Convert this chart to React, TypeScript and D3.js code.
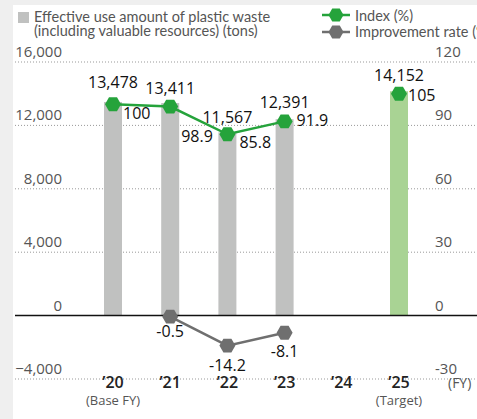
import React from 'react';
import * as d3 from 'd3';

const categories = ['’20', '’21', '’22', '’23', '’24', '’25'];
const subLabels = ['(Base FY)', '', '', '', '', '(Target)'];
const amounts: (number | null)[] = [13478, 13411, 11567, 12391, null, 14152];
const indexCats = ['’20', '’21', '’22', '’23'];
const indexValues = [100, 98.9, 85.8, 91.9];
const indexTargetCat = '’25';
const indexTarget = 105;
const improveCats = ['’21', '’22', '’23'];
const improveValues = [-0.5, -14.2, -8.1];
const leftTicks = [-4000, 0, 4000, 8000, 12000, 16000];
const rightTicks = [-30, 0, 30, 60, 90, 120];

// label offsets (style)
const amountLabelDy = [-14, -9, -9, -11, 0, -10];
const indexLabelOff = [[10, 15], [11, 35], [12, 14], [12, 5]];
const indexTargetOff = [9, 7];
const improveLabelDy = [20, 25, 24];

const W = 477, H = 419;
const FONT = "'Open Sans', 'Noto Sans', sans-serif";
const LEGEND_FONT = "Lato, 'Open Sans', sans-serif";
const GREEN = '#25a33b';
const GRAY_LINE = '#6f6f6f';
const BAR_GRAY = '#c0c1c0';
const BAR_GREEN = '#a9d394';

function hexPath(cx: number, cy: number, r: number) {
  const pts: [number, number][] = d3.range(6).map(i => {
    const a = (Math.PI / 3) * i;
    return [cx + r * Math.cos(a), cy + r * Math.sin(a)];
  });
  return d3.line()(pts)! + 'Z';
}

export default function App() {
  const x = d3.scalePoint<string>().domain(categories).range([113, 399]);
  const yL = d3.scaleLinear().domain([-4000, 16000]).range([379, 62]);
  const yR = d3.scaleLinear().domain([-30, 120]).range([379, 62]);
  const fmt = d3.format(',');
  const barW = 18;
  const idxLine = d3.line<number>().x((_, i) => x(indexCats[i])!).y(d => yR(d));
  const impLine = d3.line<number>().x((_, i) => x(improveCats[i])!).y(d => yR(d));

  return (
    <svg width={W} height={H} style={{ position: 'absolute', left: 0, top: 0, fontFamily: FONT }}>
      <rect x={0} y={0} width={W} height={H} fill="#efefef" />
      <rect x={13} y={5} width={W - 13} height={H - 5} fill="#ffffff" />

      {/* legend */}
      <g fontFamily={LEGEND_FONT} fontSize={14.5} fill="#555">
        <rect x={18} y={12} width={11} height={11} fill={BAR_GRAY} />
        <text x={34} y={22}>Effective use amount of plastic waste</text>
        <text x={34} y={36}>(including valuable resources) (tons)</text>
        <line x1={322} x2={350} y1={15} y2={15} stroke={GREEN} strokeWidth={2.5} />
        <path d={hexPath(336, 15, 7.5)} fill={GREEN} />
        <text x={355} y={21}>Index (%)</text>
        <line x1={322} x2={350} y1={32} y2={32} stroke={GRAY_LINE} strokeWidth={2.5} />
        <path d={hexPath(336, 32, 7.5)} fill={GRAY_LINE} />
        <text x={355} y={37}>Improvement rate (%)</text>
      </g>

      {/* gridlines */}
      {leftTicks.filter(t => t !== 0).map(t => (
        <line key={t} x1={15} x2={W} y1={yL(t)} y2={yL(t)} stroke="#999" strokeWidth={1} strokeDasharray="1,2" />
      ))}
      {leftTicks.map(t => (
        <text key={'l' + t} x={62} y={yL(t) - 5} fontSize={15} fill="#555" textAnchor="end">{fmt(t)}</text>
      ))}
      {rightTicks.map(t => (
        <text key={'r' + t} x={435} y={yR(t) - 5} fontSize={15} fill="#555" textAnchor="start">{t}</text>
      ))}

      {/* bars */}
      {amounts.map((v, i) => v == null ? null : (
        <rect key={'b' + i} x={x(categories[i])! - barW / 2} y={yL(v)} width={barW} height={yL(0) - yL(v)}
          fill={i === categories.length - 1 ? BAR_GREEN : BAR_GRAY} />
      ))}
      <line x1={15} x2={W} y1={yL(0)} y2={yL(0)} stroke="#111" strokeWidth={1.5} />

      {/* lines */}
      <path d={idxLine(indexValues)!} fill="none" stroke={GREEN} strokeWidth={2.5} />
      <path d={impLine(improveValues)!} fill="none" stroke={GRAY_LINE} strokeWidth={2.5} />
      {indexValues.map((v, i) => (
        <path key={'im' + i} d={hexPath(x(indexCats[i])!, yR(v), 8)} fill={GREEN} />
      ))}
      <path d={hexPath(x(indexTargetCat)!, yR(indexTarget), 8)} fill={GREEN} />
      {improveValues.map((v, i) => (
        <path key={'pm' + i} d={hexPath(x(improveCats[i])!, yR(v), 8)} fill={GRAY_LINE} />
      ))}

      {/* value labels */}
      {amounts.map((v, i) => v == null ? null : (
        <text key={'av' + i} x={x(categories[i])!} y={yL(v) + amountLabelDy[i]} fontSize={16} fill="#111" textAnchor="middle">{fmt(v)}</text>
      ))}
      {indexValues.map((v, i) => (
        <text key={'iv' + i} x={x(indexCats[i])! + indexLabelOff[i][0]} y={yR(v) + indexLabelOff[i][1]} fontSize={16} fill="#111">{v}</text>
      ))}
      <text x={x(indexTargetCat)! + indexTargetOff[0]} y={yR(indexTarget) + indexTargetOff[1]} fontSize={16} fill="#111">{indexTarget}</text>
      {improveValues.map((v, i) => (
        <text key={'pv' + i} x={x(improveCats[i])!} y={yR(v) + improveLabelDy[i]} fontSize={16} fill="#111" textAnchor="middle">{v}</text>
      ))}

      {/* x axis labels */}
      {categories.map((c, i) => (
        <g key={'c' + i}>
          <text x={x(c)!} y={388} fontSize={16} fontWeight={600} fill="#222" textAnchor="middle">{c}</text>
          {subLabels[i] && <text x={x(c)!} y={405} fontSize={13} fill="#555" textAnchor="middle">{subLabels[i]}</text>}
        </g>
      ))}
      <text x={448} y={388} fontSize={14} fill="#555">(FY)</text>
    </svg>
  );
}
